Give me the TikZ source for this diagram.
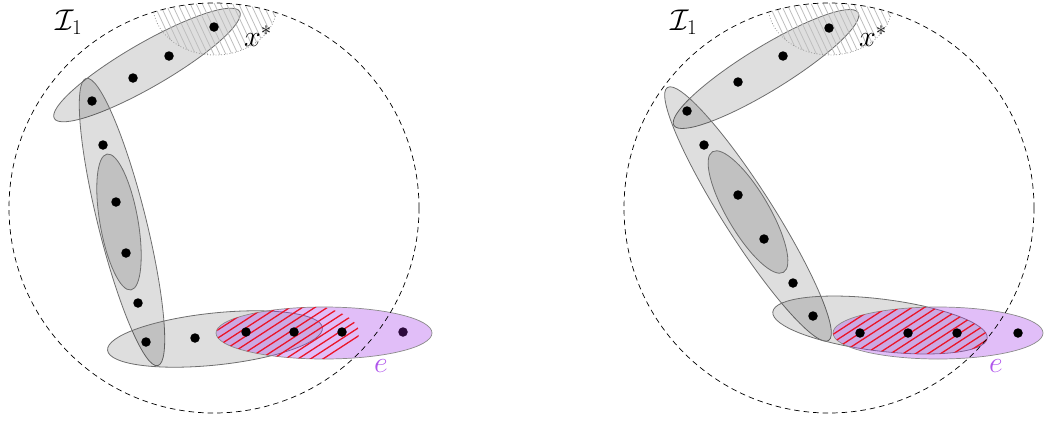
\RequirePackage{fix-cm}
\documentclass[tikz,border=0pt]{standalone}
\usetikzlibrary{calc}
\definecolor{gline}{RGB}{110,110,110}
\definecolor{epurple}{RGB}{170,70,235}
\definecolor{elabel}{RGB}{175,85,235}
\definecolor{hred}{RGB}{235,20,40}
\definecolor{hgray}{RGB}{190,190,190}
\definecolor{hbord}{RGB}{150,150,150}
\definecolor{dpurp}{RGB}{45,10,60}
\begin{document}
\begin{tikzpicture}[x=1pt,y=-1pt,
  gell/.style={draw=gline, line width=0.8pt, fill=black, fill opacity=0.13},
  pell/.style={draw=gline!80, line width=0.7pt, fill=epurple, fill opacity=0.35},
  dotn/.style={circle, fill=black, inner sep=0pt, minimum size=9.5pt},
  bigc/.style={draw=black, dash pattern=on 5.5pt off 4pt, line width=0.7pt},
  redh/.style={draw=hred, line width=1.3pt},
  grayh/.style={draw=hgray, line width=0.8pt},
  hb/.style={draw=hbord, line width=0.8pt, dotted},
  lab/.style={font=\fontsize{30}{34}\selectfont, inner sep=0pt}]
\useasboundingbox (0,0) rectangle (1044,421);

% ---------------- left panel ----------------
\draw[gell, rotate around={30:(147,65)}] (147,65) ellipse (107 and 22);
\draw[gell, rotate around={-76:(122,222)}] (122,222) ellipse (148 and 24);
\draw[gell, rotate around={-80:(119,222)}] (119,222) ellipse (69 and 19);
\draw[gell, rotate around={6:(215,339)}] (215,339) ellipse (108 and 26);
\draw[pell] (324,333) ellipse (108 and 26);

\begin{scope}
  \clip (324,333) ellipse (108 and 26);
  \clip (288,333) ellipse (71 and 30);
  \begin{scope}[shift={(288,333)}, rotate=33]
    \foreach \k in {-14,...,14} \draw[redh] (-130,\k*6.8) -- (130,\k*6.8);
  \end{scope}
\end{scope}

\begin{scope}
  \clip (214,208) circle (205);
  \clip (215,5) ellipse (62 and 50);
  \begin{scope}[shift={(215,5)}, rotate=-65]
    \foreach \k in {-14,...,14} \draw[grayh] (-90,\k*5.5) -- (90,\k*5.5);
  \end{scope}
\end{scope}
\begin{scope}
  \clip (214,208) circle (205);
  \draw[hb] (215,5) ellipse (62 and 50);
\end{scope}

\draw[bigc] (214,208) circle (205);

\node[dotn] (l1) at (214,27) {};
\node[dotn] (l2) at (169,56) {};
\node[dotn] (l3) at (133,78) {};
\node[dotn] (l4) at (92,101) {};
\node[dotn] (l5) at (103,145) {};
\node[dotn] (l6) at (116,202) {};
\node[dotn] (l7) at (126,253) {};
\node[dotn] (l8) at (138,303) {};
\node[dotn] (l9) at (146,342) {};
\node[dotn] (l10) at (195,338) {};
\node[dotn] (l11) at (246,332) {};
\node[dotn] (l12) at (294,332) {};
\node[dotn] (l13) at (342,332) {};
\node[dotn, fill=dpurp] (l14) at (403,332) {};

\node[lab] (li) at (69,22) {$\mathcal{I}_1$};
\node[lab] (lx) at (258,36) {$x^*$};
\node[lab, text=elabel] (le) at (381,366) {$e$};

% ---------------- right panel ----------------
\draw[gell, rotate around={31.5:(766,69)}] (766,69) ellipse (108 and 22);
\draw[gell, rotate around={-57.5:(748,214)}] (748,214) ellipse (150 and 25);
\draw[gell, rotate around={-59.5:(748,212)}] (748,212) ellipse (70 and 21);
\draw[gell, rotate around={-7:(880,325)}] (880,325) ellipse (108 and 26);
\draw[pell] (938,333) ellipse (105 and 26);

\begin{scope}
  \clip (938,333) ellipse (105 and 26);
  \clip[rotate around={-7:(880,325)}] (880,325) ellipse (108 and 26);
  \begin{scope}[shift={(910,333)}, rotate=33]
    \foreach \k in {-16,...,16} \draw[redh] (-140,\k*6.8) -- (140,\k*6.8);
  \end{scope}
\end{scope}

\begin{scope}
  \clip (829,208) circle (205);
  \clip (830,5) ellipse (62 and 50);
  \begin{scope}[shift={(830,5)}, rotate=-65]
    \foreach \k in {-14,...,14} \draw[grayh] (-90,\k*5.5) -- (90,\k*5.5);
  \end{scope}
\end{scope}
\begin{scope}
  \clip (829,208) circle (205);
  \draw[hb] (830,5) ellipse (62 and 50);
\end{scope}

\draw[bigc] (829,208) circle (205);

\node[dotn] (r1) at (829,28) {};
\node[dotn] (r2) at (783,56) {};
\node[dotn] (r3) at (738,82) {};
\node[dotn] (r4) at (687,111) {};
\node[dotn] (r5) at (704,145) {};
\node[dotn] (r6) at (738,195) {};
\node[dotn] (r7) at (764,239) {};
\node[dotn] (r8) at (793,283) {};
\node[dotn] (r9) at (813,316) {};
\node[dotn] (r10) at (860,333) {};
\node[dotn] (r11) at (908,333) {};
\node[dotn] (r12) at (957,333) {};
\node[dotn] (r13) at (1018,333) {};

\node[lab] (ri) at (684,22) {$\mathcal{I}_1$};
\node[lab] (rx) at (873,36) {$x^*$};
\node[lab, text=elabel] (re) at (996,366) {$e$};
\end{tikzpicture}
\end{document}
